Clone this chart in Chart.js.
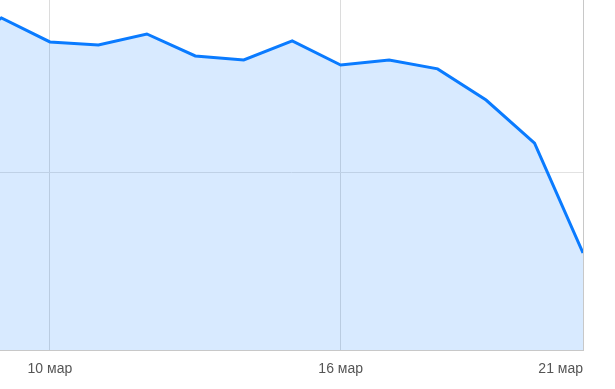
<!DOCTYPE html>
<html>
<head>
<meta charset="utf-8">
<script src="https://cdn.jsdelivr.net/npm/chart.js"></script>
<style>
  html, body { margin: 0; padding: 0; background: #fff; }
  #wrap { width: 615px; height: 389px; position: relative; }
</style>
</head>
<body>
<div id="wrap"><canvas id="chart"></canvas></div>
<script>
// days of March, 8 мар sits just off the left edge
const days   = [8, 9, 10, 11, 12, 13, 14, 15, 16, 17, 18, 19, 20, 21];
const values = [168, 187.6, 174, 172.3, 178.5, 166.1, 163.8, 174.6, 161, 163.8, 158.8, 141.2, 116.9, 54.8];
const tickDays   = [10, 16, 21];
const tickLabels = ['10 мар', '16 мар', '21 мар'];
const yTicks     = [0, 100];

const lineColor = '#0a7bff';
const xMin = 8.97, xMax = 21;

const points = days.map((d, i) => ({ x: d, y: values[i] }));

new Chart(document.getElementById('chart'), {
  type: 'line',
  data: {
    datasets: [{
      data: points,
      borderColor: lineColor,
      borderWidth: 3,
      pointRadius: 0,
      fill: 'origin',
      backgroundColor: 'rgba(10,123,255,0.16)',
      tension: 0
    }]
  },
  options: {
    responsive: true,
    maintainAspectRatio: false,
    animation: false,
    layout: { padding: { left: 0, right: 32, top: 0, bottom: 0 } },
    plugins: { legend: { display: false }, tooltip: { enabled: false } },
    scales: {
      x: {
        type: 'linear',
        min: xMin,
        max: xMax,
        afterBuildTicks: axis => {
          // blank tick at the left edge so 'inner' alignment only right-aligns the last label
          axis.ticks = [{ value: xMin }, ...tickDays.map(v => ({ value: v }))];
        },
        afterFit: axis => {
          axis.height = 39;
          axis.paddingLeft = 0;
          axis.paddingRight = 0;
        },
        grid: {
          drawTicks: false,
          color: c => (c.tick && c.tick.value === xMin) ? 'rgba(0,0,0,0)' : '#dcdcdc'
        },
        border: { display: true, color: '#c8c8c8', width: 1 },
        ticks: {
          align: 'inner',
          padding: 11,
          maxRotation: 0,
          autoSkip: false,
          color: '#555',
          font: { family: '"Liberation Sans", Arial, sans-serif', size: 14 },
          callback: v => {
            const i = tickDays.indexOf(v);
            return i >= 0 ? tickLabels[i] : '';
          }
        }
      },
      y: {
        position: 'right',
        min: 0,
        max: 197.7,
        afterBuildTicks: axis => { axis.ticks = yTicks.map(v => ({ value: v })); },
        afterFit: axis => { axis.paddingTop = 0; axis.paddingBottom = 0; },
        ticks: { display: false },
        grid: { drawTicks: false, color: '#e2e2e2' },
        border: { display: true, color: '#c8c8c8', width: 1 }
      }
    }
  }
});
</script>
</body>
</html>
